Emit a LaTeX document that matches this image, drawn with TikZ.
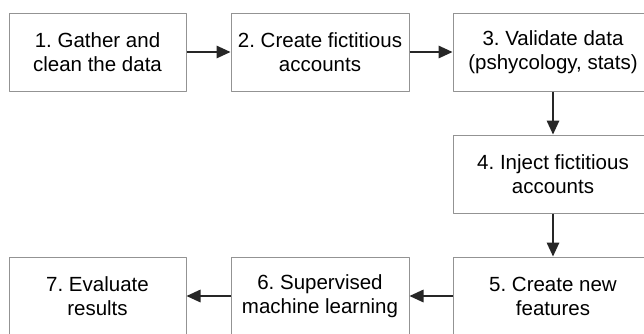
\documentclass[tikz,border=0pt]{standalone}
\usepackage{fontspec}
\setmainfont{Liberation Sans}
\frenchspacing
\usetikzlibrary{arrows.meta,positioning}

\begin{document}
\begin{tikzpicture}[x=1pt,y=-1pt,line join=round,>={Triangle[length=14pt,width=12.5pt]}]
\tikzset{every node/.style={font=\fontsize{20.5}{24}\selectfont},
box/.style={draw=gray!85,line width=1pt,minimum height=78pt,align=center,inner sep=0pt},
arr/.style={->,line width=1.6pt,black!85}}
\useasboundingbox (0,0) rectangle (644,333);
\clip (0,0) rectangle (644,333);
\fill[white] (0,0) rectangle (644,333);
\node[box,minimum width=177pt] (gather) at (97.5,52) {1. Gather and\\clean the data};
\node[box,minimum width=178pt] (create) at (320,52) {2. Create fictitious\\accounts};
\node[box,minimum width=200pt] (validate) at (553,52) {3. Validate data\\(pshycology, stats)};
\node[box,minimum width=200pt] (inject) at (553,174) {4. Inject fictitious\\accounts};
\node[box,minimum width=200pt] (features) at (553,296) {5. Create new\\features};
\node[box,minimum width=178pt] (learning) at (320,296) {6. Supervised\\machine learning};
\node[box,minimum width=177pt] (evaluate) at (97.5,296) {7. Evaluate\\results};
\draw[arr] (gather)--(create);
\draw[arr] (create)--(validate);
\draw[arr] (validate)--(inject);
\draw[arr] (inject)--(features);
\draw[arr] (features)--(learning);
\draw[arr] (learning)--(evaluate);
\end{tikzpicture}
\end{document}
